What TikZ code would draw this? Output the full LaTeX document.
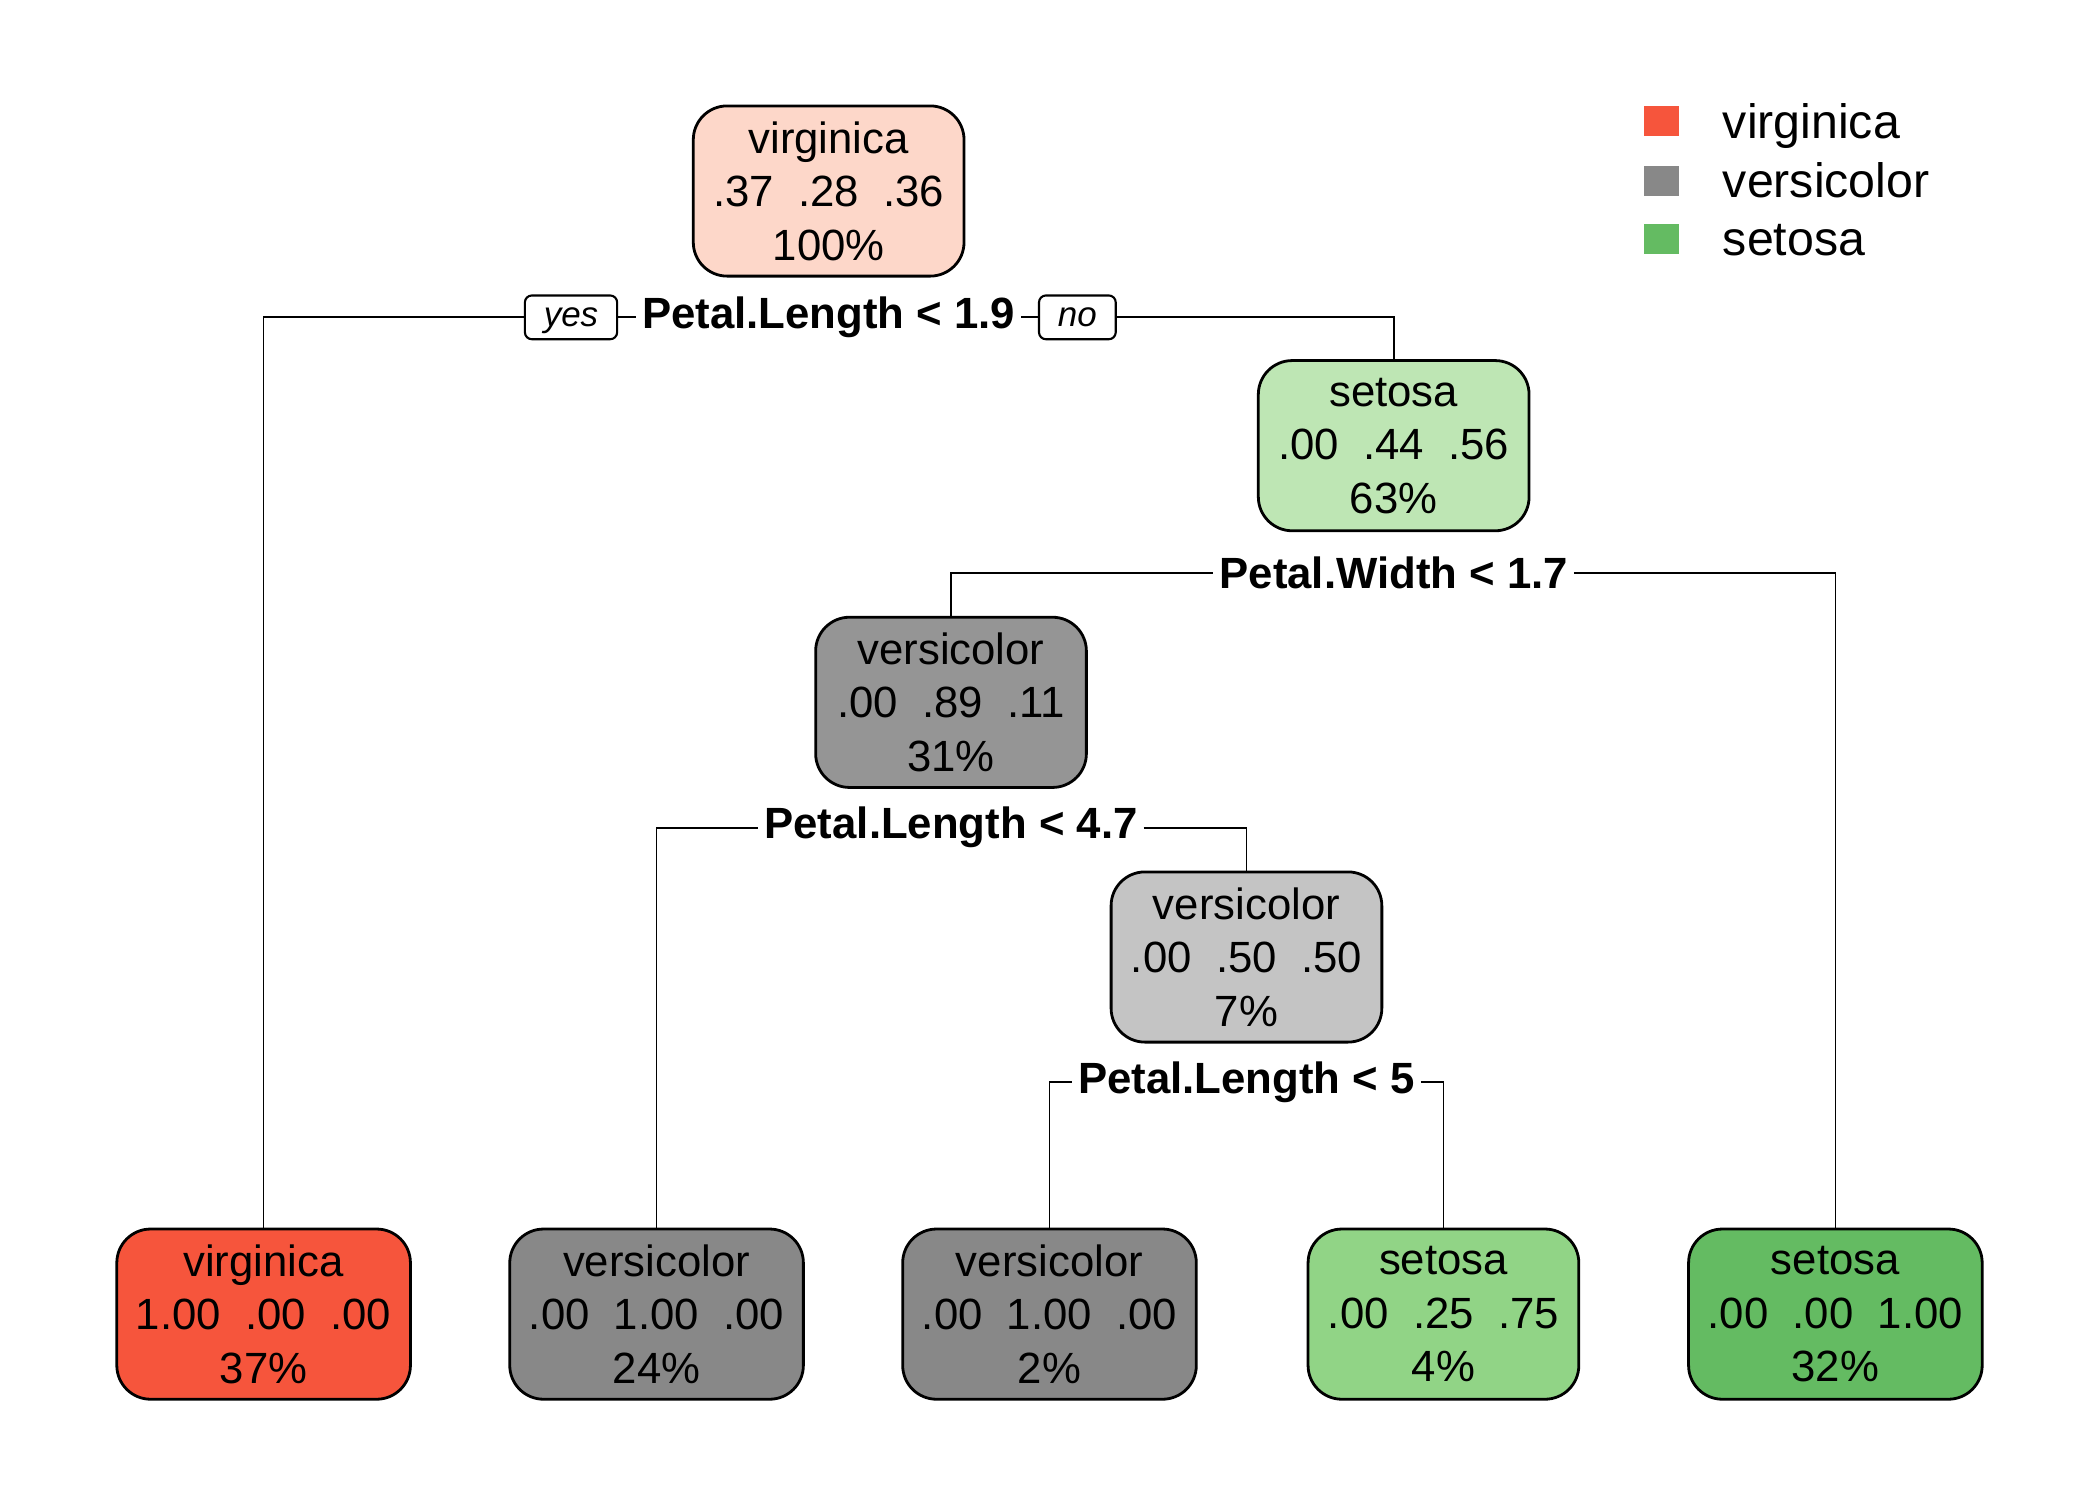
\documentclass[tikz,border=0pt]{standalone}
\usepackage{fontspec}
\setmainfont{Liberation Sans}
\usetikzlibrary{positioning}

\definecolor{virg}{RGB}{246,85,60}
\definecolor{vers}{RGB}{136,136,136}
\definecolor{seto}{RGB}{100,187,98}
\definecolor{rootc}{RGB}{253,215,201}
\definecolor{setl}{RGB}{190,230,180}
\definecolor{setm}{RGB}{145,212,134}
\definecolor{versd}{RGB}{149,149,149}
\definecolor{versl}{RGB}{196,196,196}

\begin{document}
\begin{tikzpicture}[
		x=0.01cm, y=-0.01cm
		,n/.style={draw, line width=0.8pt, rounded corners=0.34cm, minimum width=2.72cm, minimum height=1.71cm, inner sep=0pt, align=center, font=\fontsize{12.5}{15.3}\selectfont}
		,wide/.style={minimum width=2.95cm}
		,split/.style={inner xsep=1.5pt, inner ysep=0pt, font=\fontsize{12.5}{15}\selectfont\bfseries}
		,yn/.style={draw, line width=0.6pt, rounded corners=2pt, minimum height=0.44cm, inner xsep=0.19cm, inner ysep=0pt, text height=0.72em, text depth=0.2em, font=\fontsize{10}{12}\selectfont\itshape}
		,key/.style={minimum width=0.35cm, minimum height=0.3cm, inner sep=0pt}
		,keytext/.style={anchor=base west, inner sep=0pt, font=\fontsize{13.8}{16}\selectfont}
		,every path/.style={line width=0.5pt}
	]
		\useasboundingbox (0,0) rectangle (2111,1508);

		\node[n, fill=rootc] (R) at (833,192) {virginica\\.37~~.28~~.36\\100\%};
		\node[split] (S1) at (833,319) {Petal.Length < 1.9};
		\node[yn] (Y) at (574,319) {yes};
		\node[yn] (N) at (1083,319) {no};
		\node[n, fill=setl] (A) at (1401,448) {setosa\\.00~~.44~~.56\\63\%};
		\node[split] (S2) at (1401,576) {Petal.Width < 1.7};
		\node[n, fill=versd] (B) at (956,706) {versicolor\\.00~~.89~~.11\\31\%};
		\node[split] (S3) at (956,832) {Petal.Length < 4.7};
		\node[n, fill=versl] (C) at (1253,962) {versicolor\\.00~~.50~~.50\\7\%};
		\node[split] (S4) at (1253,1088) {Petal.Length < 5};

		\node[n, wide, fill=virg] (L1) at (265,1321) {virginica\\1.00~~.00~~.00\\37\%};
		\node[n, wide, fill=vers] (L2) at (660,1321) {versicolor\\.00~~1.00~~.00\\24\%};
		\node[n, wide, fill=vers] (L3) at (1055,1321) {versicolor\\.00~~1.00~~.00\\2\%};
		\node[n, fill=setm] (L4) at (1451,1321) {setosa\\.00~~.25~~.75\\4\%};
		\node[n, wide, fill=seto] (L5) at (1845,1321) {setosa\\.00~~.00~~1.00\\32\%};

		\draw (L1.north) |- (Y.west);
		\draw (Y.east) -- (S1.west);
		\draw (S1.east) -- (N.west);
		\draw (N.east) -| (A.north);
		\draw (B.north) |- (S2.west);
		\draw (S2.east) -| (L5.north);
		\draw (L2.north) |- (S3.west);
		\draw (S3.east) -| (C.north);
		\draw (L3.north) |- (S4.west);
		\draw (S4.east) -| (L4.north);

		\node[key, fill=virg] (K1) at (1670,122) {};
		\node[key, fill=vers] (K2) at (1670,182) {};
		\node[key, fill=seto] (K3) at (1670,240) {};
		\node[keytext] (T1) at (1731,139) {virginica};
		\node[keytext] (T2) at (1731,199) {versicolor};
		\node[keytext] (T3) at (1731,257) {setosa};
	\end{tikzpicture}
\end{document}
